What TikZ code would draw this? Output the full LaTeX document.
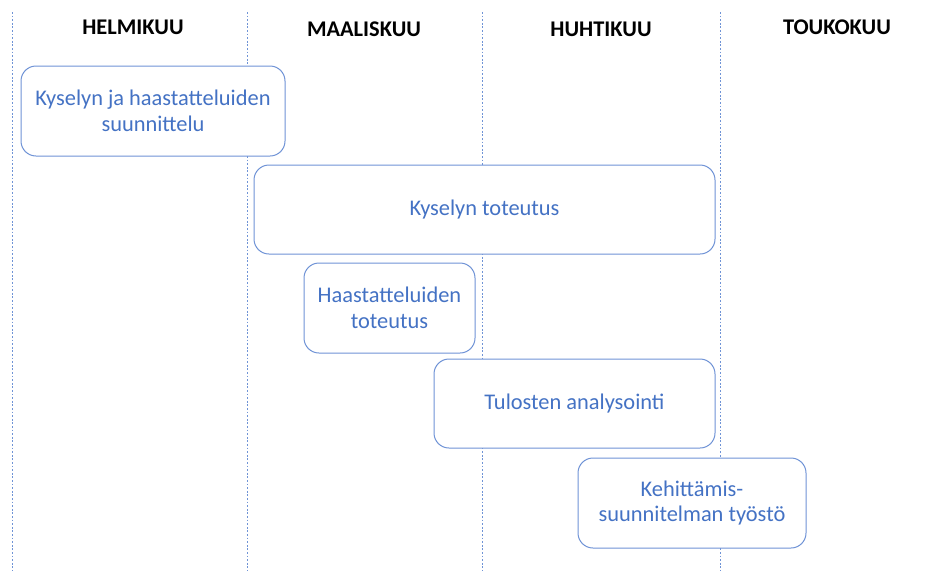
\documentclass[tikz,border=0pt]{standalone}
\usepackage{fontspec}
\setmainfont{Carlito}
\definecolor{taskblue}{HTML}{4472C4}
\definecolor{frameblue}{HTML}{6F93D6}

\begin{document}
\begin{tikzpicture}[x=1pt,y=-1pt,
  month/.style={font=\fontsize{22.4}{26}\selectfont\bfseries,text=black},
  task/.style={draw=frameblue,line width=1pt,rounded corners=15pt,fill=white,
    text=taskblue,align=center,font=\fontsize{22.4}{25.5}\selectfont,inner sep=0pt},
  divider/.style={draw=frameblue,line width=0.9pt,dash pattern=on 1.8pt off 1.8pt},
]
\useasboundingbox (0,0) rectangle (951,571);
\foreach \x in {12,247,482,720}{\draw[divider] (\x,12)--(\x,571);}
\node[month] (helmi) at (133,27) {HELMIKUU};
\node[month] (maalis) at (364,29) {MAALISKUU};
\node[month] (huhti) at (601,29) {HUHTIKUU};
\node[month] (touko) at (837,27) {TOUKOKUU};
\node[task,minimum width=264pt,minimum height=90pt] (suunnittelu) at (153,111)
  {Kyselyn ja haastatteluiden\\suunnittelu};
\node[task,minimum width=461pt,minimum height=89pt] (kysely) at (484.5,209.5)
  {Kyselyn toteutus};
\node[task,minimum width=171pt,minimum height=90pt] (haastattelu) at (389.5,308)
  {Haastatteluiden\\toteutus};
\node[task,minimum width=281pt,minimum height=89pt] (analyysi) at (574.5,403.5)
  {Tulosten analysointi};
\node[task,minimum width=228pt,minimum height=90pt] (kehitys) at (692,503)
  {Kehittämis-\\suunnitelman työstö};
\end{tikzpicture}
\end{document}
